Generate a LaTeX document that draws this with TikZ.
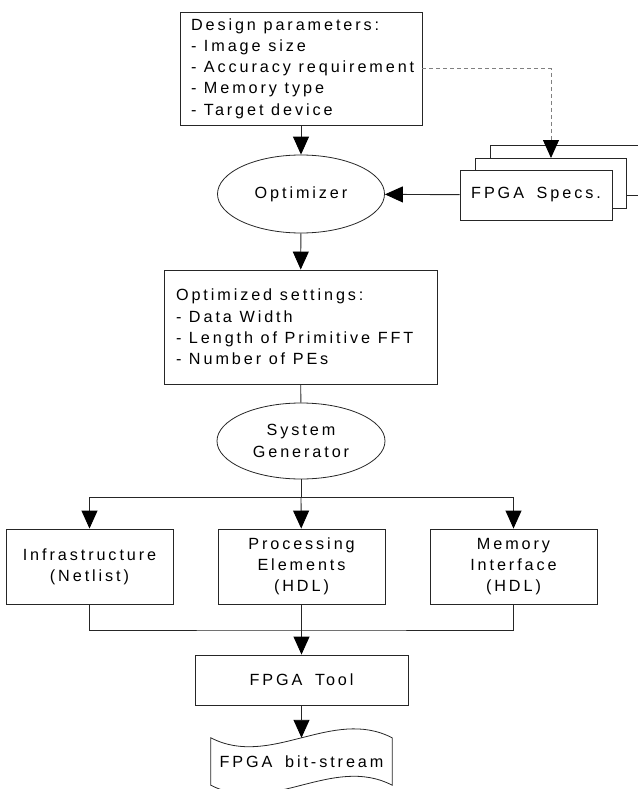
\documentclass[tikz,border=0pt]{standalone}
\usepackage{fontspec}
\setmainfont{Liberation Sans}[LetterSpace=18,WordSpace=1.7]
\usetikzlibrary{arrows.meta,shapes.geometric}

\begin{document}
\begin{tikzpicture}[x=1pt,y=-1pt,
  font=\fontsize{16.2}{21.2}\selectfont,
  box/.style={draw=black!85,line width=0.9pt,fill=white,rectangle,inner sep=0pt},
  listbox/.style={box,align=left,execute at begin node={\spaceskip=7.6pt plus 1pt\relax}},
  oval/.style={draw=black!85,line width=0.8pt,ellipse,inner sep=0pt,align=center},
  link/.style={draw=black!85,line width=0.9pt},
  flow/.style={link,-{Triangle[length=18pt,width=16pt,color=black]}},
  ]

  % page frame
  \useasboundingbox (0,0) rectangle (637,789);

  % design parameters
  \node[listbox,inner xsep=11pt,text width=220pt,minimum height=113pt]
    (design) at (301,68.5)
    {Design parameters:\\- Image size\\- Accuracy requirement\\- Memory type\\- Target device};

  % stacked FPGA specs sheets
  \draw[box] (490,145) rectangle (641,195);
  \draw[box] (475,158) rectangle (626,208);
  \node[box,minimum width=152pt,minimum height=50pt] (specs) at (536,195) {FPGA Specs.};
  \coordinate (sheettop) at (551,158);

  % optimizer
  \node[oval,minimum width=167pt,minimum height=78pt] (opt) at (301,194) {Optimizer};

  % optimized settings
  \node[listbox,inner xsep=12pt,text width=249pt,minimum height=114pt]
    (settings) at (300.5,327)
    {Optimized settings:\\- Data Width\\- Length of Primitive FFT\\- Number of PEs};

  % system generator
  \node[oval,minimum width=168pt,minimum height=76pt] (sysgen) at (301,441) {System\\Generator};
  \coordinate (split) at (301,497);

  % generated parts
  \node[box,minimum width=167pt,minimum height=75pt,align=center] (infra) at (89.5,566.5)
    {Infrastructure\\(Netlist)};
  \node[box,minimum width=167pt,minimum height=75pt,align=center] (pe) at (301.5,566.5)
    {Processing\\Elements\\(HDL)};
  \node[box,minimum width=167pt,minimum height=75pt,align=center] (mem) at (513.5,566.5)
    {Memory\\Interface\\(HDL)};
  \coordinate (merge) at (301.5,630);

  % tool and output
  \node[box,minimum width=213pt,minimum height=50pt] (tool) at (301.5,680) {FPGA Tool};
  \node[inner sep=0pt,minimum width=181pt,minimum height=47pt] (bits) at (301.5,761.5)
    {FPGA bit-stream};
  \draw[link,line width=0.8pt] (bits.north west) .. controls +(60,31) and +(-60,-31) .. (bits.north east)
    -- (bits.south east) .. controls +(-60,-31) and +(60,31) .. (bits.south west) -- cycle;

  % connectors
  \draw[flow] (design) -- (opt);
  \draw[flow,draw=black!50,dash pattern=on 4pt off 3pt] (design.east) -| (sheettop);
  \draw[flow] (specs) -- (opt);
  \draw[flow] (opt) -- (settings);
  \draw[link] (settings) -- (sysgen);
  \draw[link] (sysgen) -- (split);
  \draw[flow] (split) -| (infra);
  \draw[flow] (split) -- (pe);
  \draw[flow] (split) -| (mem);
  \draw[link] (infra) |- (merge) -| (mem);
  \draw[flow] (pe) -- (tool);
  \draw[flow] (tool) -- (bits.north);

\end{tikzpicture}
\end{document}
